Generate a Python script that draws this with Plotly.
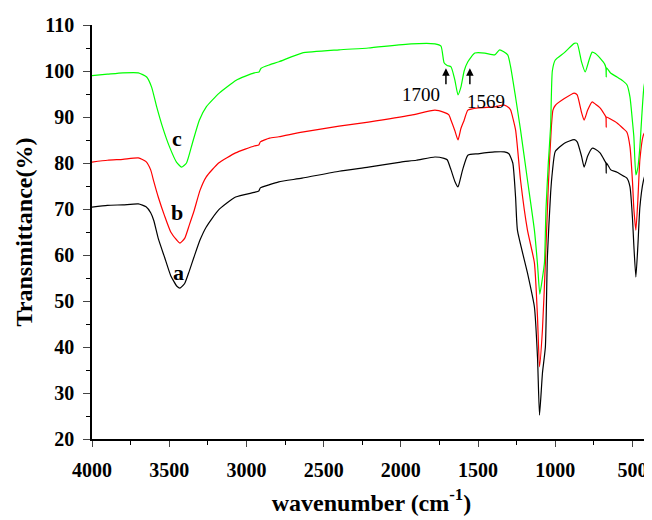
import plotly.graph_objects as go

# FTIR spectra, wavenumber (cm-1) -> transmittance (%)
wn_a = [4000, 3900, 3800, 3700, 3650, 3620, 3600, 3570, 3530, 3490, 3450, 3430, 3400,
        3370, 3340, 3300, 3260, 3180, 3070, 2950, 2920, 2910, 2850, 2790, 2640, 2400,
        2210, 2000, 1900, 1779, 1720, 1700, 1675, 1650, 1630, 1615, 1600, 1566, 1500,
        1392, 1330, 1300, 1275, 1257, 1245, 1180, 1135, 1115, 1102, 1083, 1064, 1051,
        1030, 1019, 1000, 941, 877, 858, 830, 813, 790, 761, 740, 710, 680, 672, 670,
        668, 640, 600, 560, 536, 516, 500, 491, 478, 465, 452, 430, 415, 400]
t_a = [70.4, 70.8, 70.9, 71.1, 70.5, 69.2, 67.5, 63.5, 59.5, 55.5, 53.2, 52.8, 53.8,
       56.5, 59.5, 63.3, 66.1, 69.8, 72.6, 73.6, 73.9, 74.6, 75.3, 75.9, 76.7, 78.2,
       79.1, 80.2, 80.6, 81.3, 81.0, 80.7, 78.5, 76.0, 74.8, 76.5, 78.5, 81.7, 82.0,
       82.4, 82.4, 82.0, 80.0, 72.6, 65.4, 56.1, 48.7, 37.8, 25.2, 34.3, 40.0, 59.6,
       73.5, 78.0, 82.5, 84.3, 85.1, 84.6, 81.5, 79.1, 81.5, 83.2, 83.0, 82.2, 80.5, 80.0, 77.8,
       80.0, 78.5, 78.0, 77.2, 76.7, 74.8, 68.0, 62.0, 55.2, 62.0, 70.4, 76.0, 77.6, 77.8]

wn_b = [4000, 3900, 3800, 3700, 3650, 3620, 3600, 3570, 3530, 3490, 3450, 3430, 3400,
        3370, 3340, 3300, 3260, 3180, 3070, 2950, 2920, 2910, 2850, 2790, 2640, 2400,
        2210, 1933, 1779, 1720, 1690, 1675, 1650, 1630, 1611, 1590, 1566, 1500, 1392,
        1330, 1300, 1289, 1257, 1225, 1180, 1135, 1115, 1102, 1083, 1064, 1045, 1025,
        1015, 1000, 941, 877, 858, 830, 813, 790, 761, 740, 710, 680, 672, 670, 668,
        640, 600, 560, 536, 516, 500, 491, 478, 465, 452, 430, 400]
t_b = [80.2, 80.6, 80.8, 81.1, 80.3, 78.5, 76.0, 72.5, 68.5, 65.0, 63.2, 62.6, 63.6,
       66.5, 69.5, 74.1, 77.0, 80.0, 82.2, 83.7, 83.9, 84.6, 85.4, 85.7, 86.7, 88.0,
       88.9, 90.4, 91.5, 91.0, 90.5, 89.3, 87.0, 85.0, 87.5, 89.3, 91.5, 92.0, 92.2,
       92.6, 92.0, 91.5, 87.2, 76.3, 65.4, 58.3, 46.5, 35.7, 43.7, 58.3, 75.0, 88.0,
       91.5, 92.5, 94.0, 95.2, 94.8, 91.0, 89.3, 91.5, 93.3, 92.8, 92.0, 90.5, 90.0, 87.8, 90.0,
       89.5, 88.7, 87.5, 86.7, 83.5, 76.0, 70.0, 65.4, 72.0, 80.7, 86.0, 87.8]

wn_c = [4000, 3900, 3800, 3700, 3646, 3614, 3581, 3543, 3498, 3453, 3420, 3388, 3350,
        3305, 3260, 3176, 3066, 2950, 2918, 2905, 2854, 2789, 2641, 2400, 2210, 1933,
        1779, 1740, 1720, 1700, 1675, 1650, 1630, 1611, 1590, 1566, 1521, 1456, 1392,
        1360, 1308, 1289, 1257, 1225, 1180, 1135, 1115, 1100, 1083, 1070, 1060, 1045,
        1030, 1019, 1000, 941, 877, 858, 830, 806, 780, 761, 740, 710, 680, 672, 670,
        668, 640, 600, 560, 536, 516, 500, 491, 478, 465, 452, 440, 426, 400]
t_c = [99.0, 99.3, 99.6, 99.6, 98.7, 96.5, 92.2, 87.8, 83.5, 80.2, 79.1, 80.0, 84.3,
       89.3, 92.2, 95.2, 98.0, 99.6, 99.8, 100.6, 101.3, 102.0, 103.9, 104.6, 105.0, 105.9,
       105.9, 105.4, 101.8, 101.2, 100.9, 98.0, 94.8, 96.5, 100.0, 102.0, 103.9, 103.9, 103.5,
       104.6, 103.5, 100.9, 94.3, 87.2, 76.3, 65.4, 58.0, 51.5, 55.0, 58.3, 70.0, 80.0,
       88.0, 100.0, 102.4, 104.0, 106.0, 106.0, 102.0, 99.8, 102.5, 104.1, 103.8, 102.8, 101.5, 100.7, 98.7,
       100.7, 99.5, 98.7, 97.8, 97.0, 94.3, 89.0, 85.7, 77.4, 79.0, 83.5, 90.0, 96.5, 100.9]

series = [("a", wn_a, t_a, "#000000"), ("b", wn_b, t_b, "#ff0000"), ("c", wn_c, t_c, "#00ff00")]

# curve labels and marked bands
curve_labels = [("a", 3440, 56.1), ("b", 3450, 69.3), ("c", 3450, 85.4)]
band_marks = [("1700", 1708, 1870, 94.8), ("1569", 1553, 1450, 93.3)]

serif = "Liberation Serif, Times New Roman, serif"

fig = go.Figure()
for name, x, y, color in series:
    fig.add_trace(go.Scatter(x=x, y=y, mode="lines", name=name,
                             line=dict(color=color, width=1.2, shape="spline", smoothing=0.5)))

for text, x, y in curve_labels:
    fig.add_annotation(x=x, y=y, text=f"<b>{text}</b>", showarrow=False,
                       font=dict(family=serif, size=22, color="black"))

for text, xa, xt, yt in band_marks:
    # upward arrow from 96.8 % to 100.6 %
    fig.add_annotation(x=xa, y=100.6, ax=xa, ay=96.8, axref="x", ayref="y", text="",
                       showarrow=True, arrowhead=2, arrowsize=1, arrowwidth=1.5,
                       arrowcolor="black", standoff=0, startstandoff=0)
    fig.add_annotation(x=xt, y=yt, text=text, showarrow=False,
                       font=dict(family=serif, size=19, color="black"))

axis_font = dict(family=serif, size=20, color="black")
fig.update_xaxes(range=[4000, 380], dtick=500, tick0=0, ticks="outside", ticklen=6,
                 tickwidth=1.2, showline=True, linecolor="black", linewidth=1.5,
                 showgrid=False, zeroline=False, tickfont=axis_font, ticklabelstandoff=6,
                 minor=dict(ticks="outside", ticklen=4, dtick=250, tick0=0, tickcolor="black"),
                 tickprefix="<b>", ticksuffix="</b>",
                 title=dict(text="<b>wavenumber (cm<sup>-1</sup>)</b>",
                            font=dict(family=serif, size=24, color="black"), standoff=14))
fig.update_yaxes(range=[20, 110], dtick=10, ticks="outside", ticklen=7, tickwidth=1.2,
                 showline=True, linecolor="black", linewidth=1.5, showgrid=False,
                 zeroline=False, tickfont=axis_font, ticklabelstandoff=5,
                 minor=dict(ticks="outside", ticklen=4, dtick=5, tickcolor="black"),
                 tickprefix="<b>", ticksuffix="</b>",
                 title=dict(text="<b>Transmittance(%)</b>",
                            font=dict(family=serif, size=24, color="black"), standoff=5))
# the page body adds an 8 px offset, so the figure is sized to fit inside the window
fig.update_layout(width=644, height=512, margin=dict(l=84, r=1, t=17, b=81),
                  plot_bgcolor="white", paper_bgcolor="white", showlegend=False)

fig.write_html("out.html")
